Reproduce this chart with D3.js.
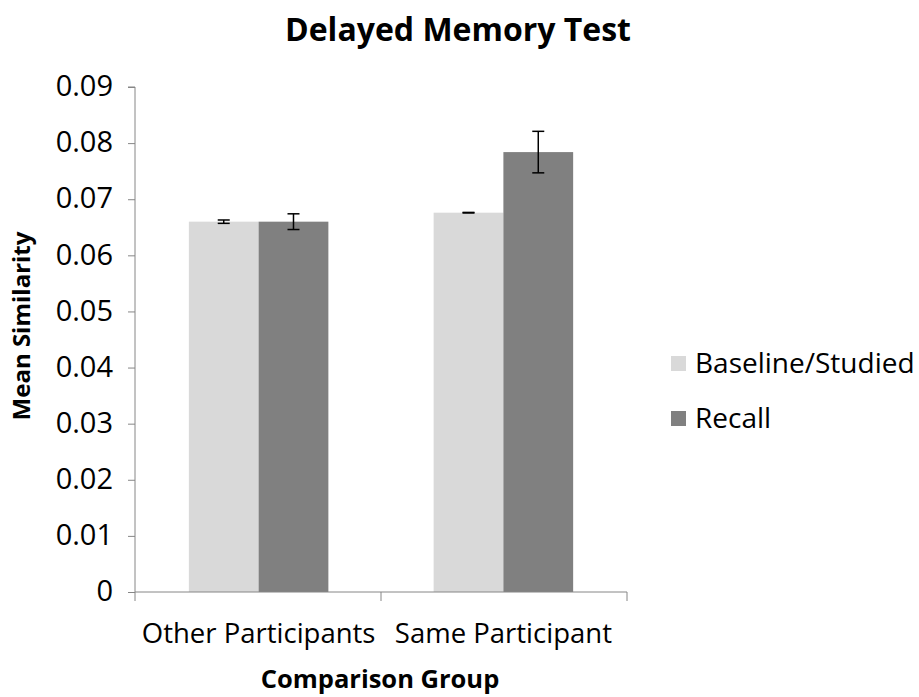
<!DOCTYPE html>
<html>
<head>
<meta charset="utf-8">
<script src="https://cdn.jsdelivr.net/npm/d3@7"></script>
<style>
  body { margin: 0; background: #fff; }
  text { font-family: "Open Sans", "Noto Sans", sans-serif; fill: #000; }
</style>
</head>
<body>
<div id="chart"></div>
<script>
// data
const categories = ['Other Participants', 'Same Participant'];
const seriesNames = ['Baseline/Studied', 'Recall'];
const baselineValues = [0.0660, 0.0676];
const baselineErrors = [0.0003, 0.00005];
const recallValues = [0.0660, 0.0784];
const recallErrors = [0.0014, 0.0037];
const yTicks = [0, 0.01, 0.02, 0.03, 0.04, 0.05, 0.06, 0.07, 0.08, 0.09];
const colors = ['#d9d9d9', '#808080'];

const width = 919, height = 697;
const svg = d3.select('#chart').append('svg')
    .attr('width', width)
    .attr('height', height);

const rows = [];
categories.forEach((c, i) => {
    rows.push({ cat: c, series: seriesNames[0], value: baselineValues[i], err: baselineErrors[i] });
    rows.push({ cat: c, series: seriesNames[1], value: recallValues[i], err: recallErrors[i] });
});

const plot = { left: 135, right: 627, top: 87, bottom: 592 };

const x0 = d3.scaleBand()
    .domain(categories)
    .range([plot.left, plot.right])
    .paddingInner(0.43)
    .paddingOuter(0.22);

const x1 = d3.scaleBand()
    .domain(seriesNames)
    .range([0, x0.bandwidth()]);

const y = d3.scaleLinear()
    .domain([0, 0.09])
    .range([plot.bottom, plot.top]);

const color = d3.scaleOrdinal().domain(seriesNames).range(colors);

// title
svg.append('text')
    .attr('x', 458)
    .attr('y', 30)
    .attr('dy', '0.35em')
    .attr('text-anchor', 'middle')
    .style('font-size', '32px')
    .style('font-weight', 'bold')
    .text('Delayed Memory Test');

// bars
svg.append('g').selectAll('rect')
    .data(rows)
    .join('rect')
    .attr('x', d => x0(d.cat) + x1(d.series))
    .attr('y', d => y(d.value))
    .attr('width', x1.bandwidth())
    .attr('height', d => y(0) - y(d.value))
    .attr('fill', d => color(d.series));

// error bars
const eb = svg.append('g').attr('stroke', '#000').attr('stroke-width', 1.5);
rows.forEach(d => {
    const cx = x0(d.cat) + x1(d.series) + x1.bandwidth() / 2;
    const top = y(d.value + d.err), bot = y(d.value - d.err);
    eb.append('line').attr('x1', cx).attr('x2', cx).attr('y1', top).attr('y2', bot);
    eb.append('line').attr('x1', cx - 6).attr('x2', cx + 6).attr('y1', top).attr('y2', top);
    eb.append('line').attr('x1', cx - 6).attr('x2', cx + 6).attr('y1', bot).attr('y2', bot);
});

// y axis
const yAxis = svg.append('g')
    .attr('transform', `translate(${plot.left},0)`)
    .call(d3.axisLeft(y).tickValues(yTicks).tickFormat(d => d === 0 ? '0' : d3.format('.2f')(d)).tickSize(7).tickPadding(15));
yAxis.select('.domain').attr('stroke', '#868686').attr('d', `M-7,${plot.top}H0V${plot.bottom}`);
yAxis.selectAll('.tick line').attr('stroke', '#868686');
yAxis.selectAll('text').style('font-size', '29px').attr('fill', '#000').attr('dy', '0.3em');

// x axis
const xAxis = svg.append('g')
    .attr('transform', `translate(0,${plot.bottom})`)
    .call(d3.axisBottom(x0).tickSize(0).tickPadding(0));
xAxis.select('.domain').attr('stroke', '#868686').attr('d', `M${plot.left},0H${plot.right}`);
xAxis.selectAll('text').style('font-size', '27.5px').attr('fill', '#000').attr('y', 41).attr('dy', '0.35em');
const bounds = [plot.left, (x0(categories[0]) + x0.bandwidth() + x0(categories[1])) / 2, plot.right];
svg.append('g').selectAll('line')
    .data(bounds)
    .join('line')
    .attr('x1', d => d).attr('x2', d => d)
    .attr('y1', plot.bottom).attr('y2', plot.bottom + 9)
    .attr('stroke', '#868686');

// axis titles
svg.append('text')
    .attr('transform', `translate(22,326) rotate(-90)`)
    .attr('text-anchor', 'middle')
    .attr('dy', '0.35em')
    .style('font-size', '24px')
    .style('font-weight', 'bold')
    .text('Mean Similarity');

svg.append('text')
    .attr('x', 380)
    .attr('y', 679)
    .attr('dy', '0.35em')
    .attr('text-anchor', 'middle')
    .style('font-size', '25.5px')
    .style('font-weight', 'bold')
    .text('Comparison Group');

// legend
const legend = svg.append('g').attr('transform', 'translate(671,363)');
seriesNames.forEach((s, i) => {
    const g = legend.append('g').attr('transform', `translate(0,${i * 55})`);
    g.append('rect').attr('width', 15).attr('height', 15).attr('y', -7).attr('fill', color(s));
    g.append('text').attr('x', 24).attr('dy', '0.35em').style('font-size', '28px').text(s);
});
</script>
</body>
</html>
